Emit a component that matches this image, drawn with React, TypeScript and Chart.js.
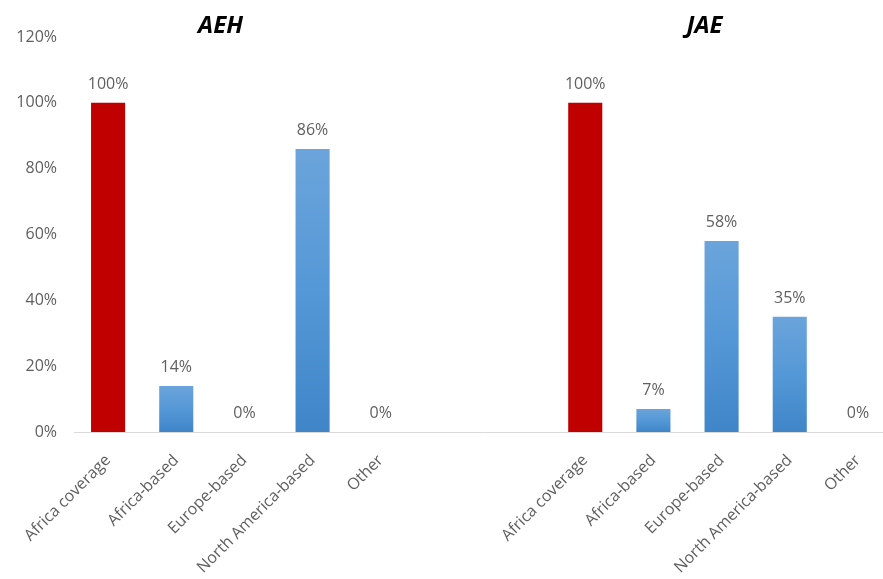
import React, { useEffect, useRef } from "react";
import { Chart, registerables } from "chart.js";

Chart.register(...registerables);

const categories = ["Africa coverage", "Africa-based", "Europe-based", "North America-based", "Other"];
const groupTitles = ["AEH", "JAE"];
const aehValues = [100, 14, 0, 86, 0];
const jaeValues = [100, 7, 58, 35, 0];
const yTicks = [0, 20, 40, 60, 80, 100, 120];
const gapSlots = 2;

const labels = [...categories, ...Array(gapSlots).fill(""), ...categories];
const values: (number | null)[] = [...aehValues, ...Array(gapSlots).fill(null), ...jaeValues];

const TEXT = "#5f5f5f";
const FONT = "'Open Sans', 'Liberation Sans', sans-serif";

const barFill = (ctx: any) => {
  const chart = ctx.chart;
  const i = ctx.dataIndex;
  if (labels[i] === "Africa coverage") return "#c00000";
  const y = chart.scales?.y;
  const v = values[i];
  if (!y || v == null || !chart.chartArea) return "#5b9bd5";
  const top = y.getPixelForValue(v);
  const bottom = y.getPixelForValue(0);
  if (!(bottom - top > 0.5)) return "#5b9bd5";
  const g = chart.ctx.createLinearGradient(0, top, 0, bottom);
  g.addColorStop(0, "#6ba4db");
  g.addColorStop(0.5, "#5598d7");
  g.addColorStop(1, "#3f85c8");
  return g;
};

const labelPlugin = {
  id: "valueLabels",
  afterDatasetsDraw(chart: any) {
    const ctx = chart.ctx;
    const meta = chart.getDatasetMeta(0);
    ctx.save();
    ctx.fillStyle = TEXT;
    ctx.font = `16px ${FONT}`;
    ctx.textAlign = "center";
    ctx.textBaseline = "alphabetic";
    meta.data.forEach((el: any, i: number) => {
      const v = values[i];
      if (v == null) return;
      ctx.fillText(v + "%", el.x, el.y - 14);
    });
    // group titles
    const x = chart.scales.x;
    const offsets = [1.65, 8.75];
    ctx.fillStyle = "#000";
    ctx.font = `italic bold 24px ${FONT}`;
    groupTitles.forEach((t, k) => {
      ctx.fillText(t, x.getPixelForValue(offsets[k]), 33);
    });
    ctx.restore();
  },
};

export default function App() {
  const ref = useRef<HTMLCanvasElement>(null);
  useEffect(() => {
    if (!ref.current) return;
    const chart = new Chart(ref.current, {
      type: "bar",
      data: {
        labels,
        datasets: [
          {
            data: values,
            backgroundColor: barFill,
            categoryPercentage: 1,
            barPercentage: 0.5,
          },
        ],
      },
      plugins: [labelPlugin],
      options: {
        animation: false,
        responsive: true,
        maintainAspectRatio: false,
        layout: { padding: { top: 37, right: 3, left: 0, bottom: 0 } },
        plugins: { legend: { display: false }, tooltip: { enabled: false }, title: { display: false } },
        scales: {
          x: {
            grid: { display: false, drawTicks: false },
            border: { display: true, color: "#d9d9d9", width: 1 },
            ticks: {
              color: TEXT,
              font: { family: FONT, size: 16 },
              maxRotation: 45,
              minRotation: 45,
              autoSkip: false,
              padding: 19,
            },
            afterFit: (s: any) => {
              s.height = 147;
            },
          },
          y: {
            min: 0,
            max: 120,
            afterBuildTicks: (s: any) => {
              s.ticks = yTicks.map((v) => ({ value: v }));
            },
            grid: { display: false, drawTicks: false },
            border: { display: false },
            ticks: {
              color: TEXT,
              font: { family: FONT, size: 16 },
              padding: 17,
              callback: (v: any) => v + "%",
            },
            afterFit: (s: any) => {
              s.width = 74;
            },
          },
        },
      },
    });
    return () => chart.destroy();
  }, []);
  return (
    <div style={{ position: "fixed", left: 0, top: 0, width: 883, height: 579, overflow: "hidden", background: "#fff" }}>
      <div style={{ position: "relative", width: 895, height: 579 }}>
        <canvas ref={ref} />
      </div>
    </div>
  );
}
